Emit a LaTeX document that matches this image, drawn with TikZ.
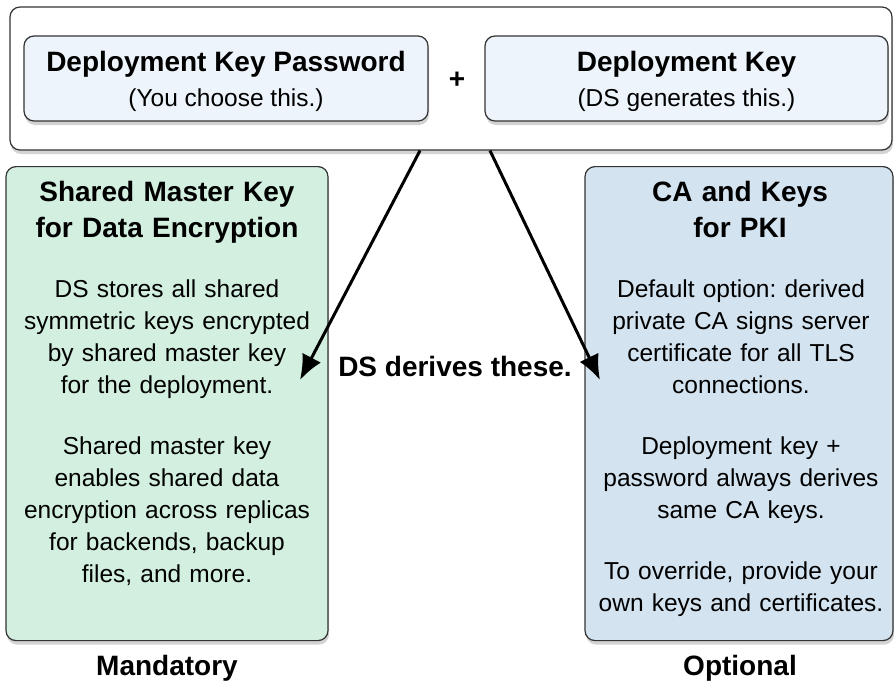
\documentclass[tikz,border=0pt]{standalone}
\usepackage{fontspec}
\setmainfont{Liberation Sans}
\usetikzlibrary{arrows.meta, shadows, positioning}
\frenchspacing

\definecolor{keyfill}{HTML}{EEF4FB}
\definecolor{mandfill}{HTML}{D2EFE0}
\definecolor{optfill}{HTML}{D3E3EF}
\definecolor{edge}{HTML}{333333}

\tikzset{
  box/.style={draw=edge, line width=1.2pt, rounded corners=10pt, align=center,
    drop shadow={shadow xshift=1pt, shadow yshift=-4pt, opacity=0.35}},
  keybox/.style={box, fill=keyfill, minimum width=404pt, minimum height=85pt, inner sep=0pt},
  sidebox/.style={box, minimum height=474pt, inner sep=0pt, anchor=north},
  derive/.style={line width=3pt, -{Latex[length=25pt, width=21pt]}},
  big/.style={font=\fontsize{28}{36}\selectfont\bfseries},
}
\newcommand{\bodytext}{\fontsize{24.5}{32}\selectfont}

\begin{document}
\begin{tikzpicture}[x=1pt, y=-1pt]
  \useasboundingbox (0,0) rectangle (894,685);

  \node[box, fill=white, minimum width=882pt, minimum height=143pt] (top) at (451,78.5) {};
  \node[keybox] (pwd) at (226,78.5) {};
  \node[keybox, minimum width=403pt] (dkey) at (686.5,78.5) {};
  \node[big, anchor=base] at (226,72) {Deployment Key Password};
  \node[anchor=base, font=\bodytext] at (226,106) {(You choose this.)};
  \node[big, anchor=base] at (686.5,72) {Deployment Key};
  \node[anchor=base, font=\bodytext] at (686.5,106) {(DS generates this.)};
  \node[big] (plus) at (457,80) {+};

  \node[sidebox, fill=mandfill, minimum width=322pt] (master) at (167,166) {};
  \node[sidebox, fill=optfill, minimum width=308pt] (pki) at (739,166) {};

  \node[big, anchor=base, text width=320pt, align=center] (mtitle) at (167,201)
    {Shared Master Key\\for Data Encryption};
  \node[anchor=base, font=\bodytext, text width=320pt, align=center] (mbody) at (167,297)
    {DS stores all shared\\symmetric keys encrypted\\by shared master key\\for the deployment.\\[29pt]
     Shared master key\\enables shared data\\encryption across replicas\\for backends, backup\\files, and more.};

  \node[big, anchor=base, text width=306pt, align=center] (ptitle) at (740,201)
    {CA and Keys\\for PKI};
  \node[anchor=base, font=\bodytext, text width=306pt, align=center] (pbody) at (741,297)
    {Default option: derived\\private CA signs server\\certificate for all TLS\\connections.\\[29pt]
     Deployment key +\\password always derives\\same CA keys.\\[29pt]
     To override, provide your\\own keys and certificates.};

  \node[big] (derives) at (455,366) {DS derives these.};
  \node[big] (mand) at (167,668) {Mandatory};
  \node[big] (opt) at (740,668) {Optional};

  \coordinate (tipL) at (300,380);
  \coordinate (tipR) at (600,380);
  \draw[derive] (top.south) ++(-31,0) -- (tipL);
  \draw[derive] (top.south) ++(39,0) -- (tipR);
\end{tikzpicture}
\end{document}
